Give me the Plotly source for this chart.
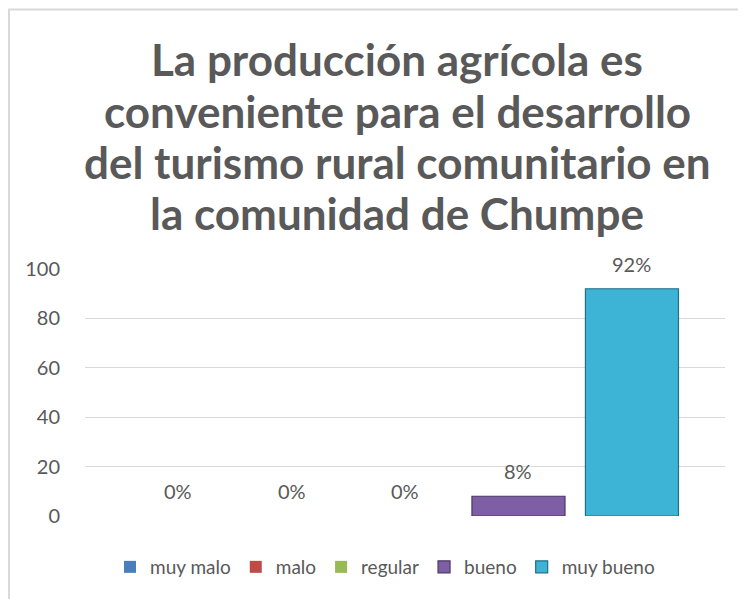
import plotly.graph_objects as go

categories = ["muy malo", "malo", "regular", "bueno", "muy bueno"]
values = [0, 0, 0, 8, 92]
labels = ["0%", "0%", "0%", "8%", "92%"]
colors = ["#4A7EBB", "#BE4B48", "#98B954", "#7E5FA6", "#3DB3D6"]
edge_colors = ["#2C4D74", "#772C2A", "#5E7430", "#4A3764", "#236E84"]
title_lines = [
    "La producción agrícola es",
    "conveniente para el desarrollo",
    "del turismo rural comunitario en",
    "la comunidad de Chumpe",
]
y_ticks = [0, 20, 40, 60, 80, 100]

FONT = "Lato, 'Open Sans', sans-serif"
GREY = "#595959"

OFF = 8  # page body margin
W, H = 746 - OFF, 599 - OFF
# plot area in page coordinates
PL, PR, PT, PB = 85, 725, 269, 516
L, R, T, B = PL - OFF, W - (PR - OFF), PT - OFF, H - (PB - OFF)
pw, ph = PR - PL, PB - PT

def px_x(p):
    return (p - PL) / pw

def px_y(p):
    return (PB - p) / ph

fig = go.Figure()
for i, (c, v, col, ec) in enumerate(zip(categories, values, colors, edge_colors)):
    fig.add_trace(go.Bar(
        x=[i], y=[v], name=c, width=0.82,
        marker=dict(color=col, line=dict(color=ec, width=1.2 if v > 0 else 0)),
        hoverinfo="skip",
    ))

annotations = []
for i, (v, lab) in enumerate(zip(values, labels)):
    annotations.append(dict(
        x=i, y=v, xref="x", yref="y", text=lab, showarrow=False,
        yshift=25, font=dict(family=FONT, size=20, color=GREY),
    ))

title_y_px = [59, 111, 162, 213]
for line, yp in zip(title_lines, title_y_px):
    annotations.append(dict(
        x=px_x(397), y=px_y(yp), xref="paper", yref="paper", text=f"<b>{line}</b>",
        showarrow=False, xanchor="center", yanchor="middle",
        font=dict(family=FONT, size=44, color=GREY),
    ))

fig.update_layout(
    width=W, height=H,
    margin=dict(l=L, r=R, t=T, b=B, pad=0),
    paper_bgcolor="white", plot_bgcolor="white",
    barmode="overlay",
    showlegend=True,
    legend=dict(
        orientation="h", x=px_x(385), y=px_y(567), xanchor="center", yanchor="middle",
        font=dict(family=FONT, size=19, color=GREY), traceorder="normal",
        itemwidth=30,
    ),
    xaxis=dict(
        range=[-0.82, 4.82], showticklabels=False, showgrid=False, zeroline=False,
        showline=False, ticks="",
    ),
    yaxis=dict(
        range=[0, 100], tickvals=y_ticks, showgrid=True, gridcolor="#D9D9D9", gridwidth=1,
        zeroline=False, showline=False, ticks="outside", ticklen=20, tickcolor="white",
        tickfont=dict(family=FONT, size=20, color=GREY),
    ),
    annotations=annotations,
    shapes=[dict(
        type="rect", xref="paper", yref="paper",
        x0=px_x(9), x1=px_x(800), y0=px_y(650), y1=px_y(9.5),
        line=dict(color="#D9D9D9", width=2), fillcolor="rgba(0,0,0,0)", layer="below",
    )],
)

fig.write_html("out.html")
